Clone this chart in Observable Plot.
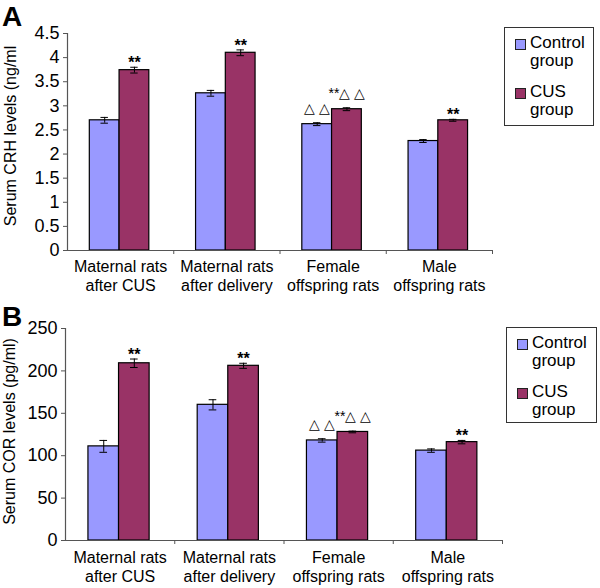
<!DOCTYPE html>
<html><head><meta charset="utf-8">
<script src="https://cdn.jsdelivr.net/npm/d3@7"></script>
<script src="https://cdn.jsdelivr.net/npm/@observablehq/plot@0.6"></script>
<style>
body{margin:0;background:#fff;font-family:"Liberation Sans",Arial,sans-serif;}
#wrap{position:relative;width:600px;height:588px;overflow:hidden;background:#fff;}
.panel{position:absolute;left:0;}
.letter{position:absolute;font-weight:bold;font-size:28px;line-height:1;color:#000;}
.legend{position:absolute;border:1.5px solid #333;box-sizing:border-box;padding:6px 0 0 10px;font-size:17px;line-height:18px;color:#000;background:#fff;}
.item{display:flex;align-items:flex-start;margin-bottom:13px;}
.sw{width:11px;height:11px;border:1px solid #222;box-sizing:border-box;margin-top:4.5px;margin-right:4px;flex:none;}
</style></head>
<body><div id="wrap"></div>
<script>
// ---- data ----
const categories = ["Maternal rats\nafter CUS", "Maternal rats\nafter delivery", "Female\noffspring rats", "Male\noffspring rats"];
const groups = ["Control group", "CUS group"];

const crhControl = [2.70, 3.26, 2.62, 2.27];
const crhControlErr = [0.06, 0.06, 0.03, 0.03];
const crhCUS = [3.74, 4.10, 2.93, 2.70];
const crhCUSErr = [0.06, 0.06, 0.03, 0.02];
const crhControlNote = ["", "", "△ △", ""];
const crhCUSNote = ["**", "**", "**△ △", "**"];
const crhTicks = [0, 0.5, 1, 1.5, 2, 2.5, 3, 3.5, 4, 4.5];
const crhLabel = "Serum CRH levels (ng/ml";

const corControl = [111, 160, 118, 106];
const corControlErr = [7, 6, 2, 2];
const corCUS = [209, 206, 128, 116];
const corCUSErr = [5, 3, 1, 2];
const corControlNote = ["", "", "△ △", ""];
const corCUSNote = ["**", "**", "**△ △", "**"];
const corTicks = [0, 50, 100, 150, 200, 250];
const corLabel = "Serum COR levels (pg/ml)";

// ---- styles ----
const colors = ["#9999ff", "#993366"];
const font = '"Liberation Sans", Arial, sans-serif';
const barOffset = 0.21, barWidth = 0.28, capHalf = 0.035;

function chart(cfg) {
  const rows = [];
  categories.forEach((c, i) => {
    rows.push({i, group: groups[0], x1: i + barOffset, x2: i + barOffset + barWidth,
      value: cfg.control[i], err: cfg.controlErr[i], note: cfg.controlNote[i]});
    rows.push({i, group: groups[1], x1: i + barOffset + barWidth, x2: i + barOffset + 2 * barWidth,
      value: cfg.cus[i], err: cfg.cusErr[i], note: cfg.cusNote[i]});
  });
  rows.forEach(d => { d.xc = (d.x1 + d.x2) / 2; d.hi = d.value + d.err; d.lo = d.value - d.err; });
  return Plot.plot({
    width: 600, height: 294,
    marginLeft: cfg.ml, marginRight: cfg.mr, marginTop: cfg.mt, marginBottom: cfg.mb,
    style: {fontFamily: font, fontSize: "16px", color: "#000", background: "transparent", overflow: "visible"},
    x: {domain: [0, categories.length]},
    y: {domain: [0, cfg.ticks[cfg.ticks.length - 1]]},
    color: {domain: groups, range: colors},
    marks: [
      Plot.rect(rows, {x1: "x1", x2: "x2", y1: 0, y2: "value", fill: "group", stroke: "#000", strokeWidth: 1.2}),
      Plot.ruleX(rows, {x: "xc", y1: "lo", y2: "hi", stroke: "#000", strokeWidth: 1}),
      Plot.ruleY(rows, {y: "hi", x1: d => d.xc - capHalf, x2: d => d.xc + capHalf, stroke: "#000", strokeWidth: 1}),
      Plot.ruleY(rows, {y: "lo", x1: d => d.xc - capHalf, x2: d => d.xc + capHalf, stroke: "#000", strokeWidth: 1}),
      Plot.ruleX([0], {stroke: "#555", strokeWidth: 1.2}),
      Plot.ruleY([0], {stroke: "#555", strokeWidth: 1.2}),
      Plot.axisY({ticks: cfg.ticks, tickFormat: d => String(d), tickSize: 4, tickPadding: 4, fontSize: 18, label: null, stroke: "#555"}),
      Plot.axisX({ticks: d3.range(1, categories.length + 1), tickSize: 4, tickFormat: () => "", label: null, stroke: "#555"}),
      Plot.text(categories, {x: (d, i) => i + 0.5, frameAnchor: "bottom", lineAnchor: "top", dy: cfg.catDy, lineHeight: 1.2, fontSize: 16}),
      Plot.text([cfg.label], {frameAnchor: "left", textAnchor: "middle", rotate: -90, lineAnchor: "top", dx: cfg.labelDx, dy: cfg.labelDy, fontSize: 16}),
      Plot.text(rows.filter(d => d.note && !d.note.includes("△")), {x: "xc", y: "hi", text: "note", lineAnchor: "bottom", dy: 1, fontSize: 16, fontWeight: "bold"}),
      Plot.text(rows.filter(d => d.note.includes("△")), {x: "xc", y: "hi", text: "note", lineAnchor: "bottom", dy: -10, fontSize: 14})
    ]
  });
}

const wrap = document.getElementById("wrap");

function panel(top, svg) {
  const div = document.createElement("div");
  div.className = "panel";
  div.style.top = top + "px";
  div.appendChild(svg);
  wrap.appendChild(div);
}

panel(0, chart({control: crhControl, controlErr: crhControlErr, cus: crhCUS, cusErr: crhCUSErr,
  controlNote: crhControlNote, cusNote: crhCUSNote, ticks: crhTicks, label: crhLabel,
  ml: 67, mr: 108, mt: 33, mb: 44, catDy: 8, labelDx: -63, labelDy: -6}));
panel(294, chart({control: corControl, controlErr: corControlErr, cus: corCUS, cusErr: corCUSErr,
  controlNote: corControlNote, cusNote: corCUSNote, ticks: corTicks, label: corLabel,
  ml: 65, mr: 98, mt: 34, mb: 48, catDy: 9, labelDx: -62, labelDy: -3}));

function letter(text, left, top) {
  const d = document.createElement("div");
  d.className = "letter";
  d.textContent = text;
  d.style.left = left + "px";
  d.style.top = top + "px";
  wrap.appendChild(d);
}
letter("A", 2, 3);
letter("B", 2, 303);

function legend(left, top, w, h) {
  const box = document.createElement("div");
  box.className = "legend";
  Object.assign(box.style, {left: left + "px", top: top + "px", width: w + "px", height: h + "px"});
  groups.forEach((g, i) => {
    const item = document.createElement("div");
    item.className = "item";
    const sw = document.createElement("span");
    sw.className = "sw";
    sw.style.background = colors[i];
    const t = document.createElement("span");
    const parts = g.split(" ");
    t.innerHTML = parts[0] + "<br>" + parts.slice(1).join(" ");
    item.appendChild(sw);
    item.appendChild(t);
    box.appendChild(item);
  });
  wrap.appendChild(box);
}
legend(504, 27, 90, 99);
legend(506, 327, 91, 96);
</script>
</body></html>
